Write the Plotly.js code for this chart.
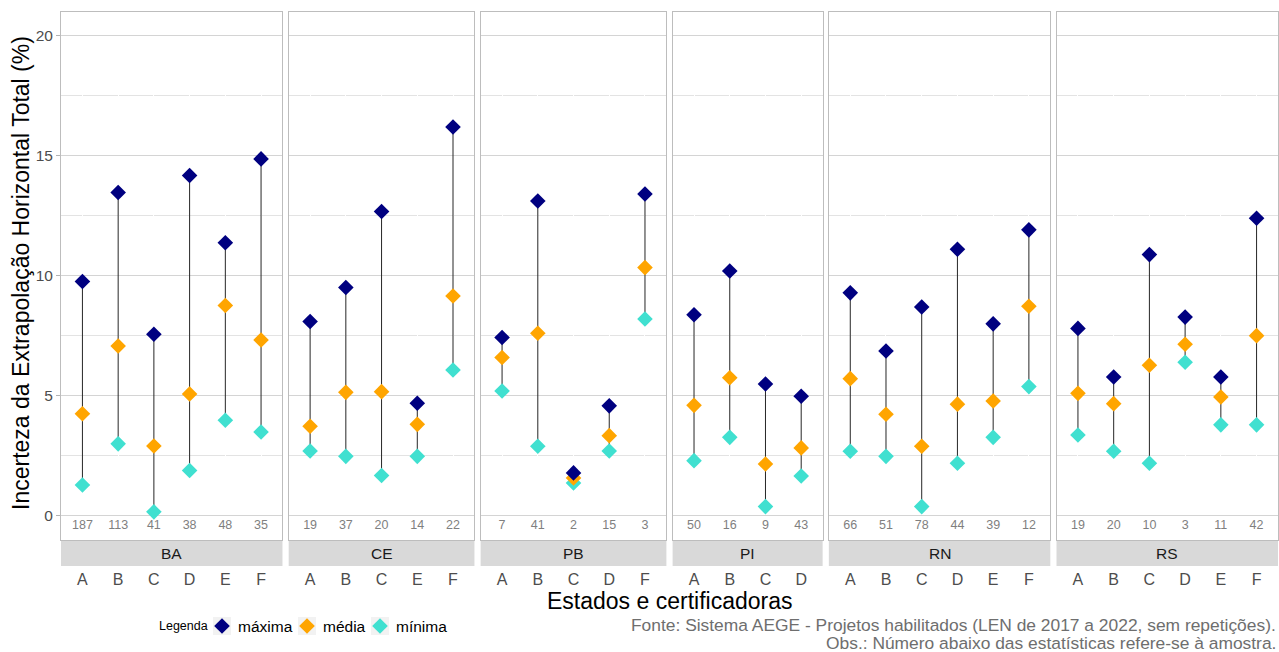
<!DOCTYPE html>
<html><head><meta charset="utf-8">
<script src="https://cdn.plot.ly/plotly-3.0.1.min.js"></script>
<style>html,body{margin:0;padding:0;background:#fff}#chart{width:1279px;height:652px}</style>
</head><body><div id="chart"></div>
<script>
// ---- data ----
const estados = ['BA', 'CE', 'PB', 'PI', 'RN', 'RS'];

const catsBA = ['A', 'B', 'C', 'D', 'E', 'F'];
const maxBA = [9.75, 13.45, 7.56, 14.16, 11.36, 14.85];
const medBA = [4.25, 7.07, 2.91, 5.07, 8.75, 7.32];
const minBA = [1.29, 3.00, 0.17, 1.89, 3.98, 3.49];
const nBA = [187, 113, 41, 38, 48, 35];

const catsCE = ['A', 'B', 'C', 'E', 'F'];
const maxCE = [8.09, 9.50, 12.66, 4.69, 16.18];
const medCE = [3.73, 5.14, 5.17, 3.81, 9.15];
const minCE = [2.70, 2.48, 1.68, 2.48, 6.07];
const nCE = [19, 37, 20, 14, 22];

const catsPB = ['A', 'B', 'C', 'D', 'F'];
const maxPB = [7.42, 13.10, 1.79, 4.58, 13.39];
const medPB = [6.59, 7.60, 1.58, 3.34, 10.33];
const minPB = [5.20, 2.90, 1.37, 2.70, 8.19];
const nPB = [7, 41, 2, 15, 3];

const catsPI = ['A', 'B', 'C', 'D'];
const maxPI = [8.37, 10.19, 5.49, 4.98];
const medPI = [4.60, 5.75, 2.16, 2.83];
const minPI = [2.30, 3.27, 0.39, 1.66];
const nPI = [50, 16, 9, 43];

const catsRN = ['A', 'B', 'C', 'D', 'E', 'F'];
const maxRN = [9.28, 6.86, 8.69, 11.09, 7.99, 11.90];
const medRN = [5.71, 4.23, 2.90, 4.65, 4.78, 8.72];
const minRN = [2.69, 2.48, 0.39, 2.19, 3.27, 5.38];
const nRN = [66, 51, 78, 44, 39, 12];

const catsRS = ['A', 'B', 'C', 'D', 'E', 'F'];
const maxRS = [7.80, 5.78, 10.87, 8.27, 5.78, 12.38];
const medRS = [5.10, 4.67, 6.27, 7.14, 4.95, 7.50];
const minRS = [3.37, 2.69, 2.19, 6.39, 3.79, 3.79];
const nRS = [19, 20, 10, 3, 11, 42];

const yTicks = [0, 5, 10, 15, 20];
const yMinorTicks = [2.5, 7.5, 12.5, 17.5];
const serieNames = ['máxima', 'média', 'mínima'];

const panels = [
  {st: 'BA', cats: catsBA, max: maxBA, med: medBA, min: minBA, n: nBA},
  {st: 'CE', cats: catsCE, max: maxCE, med: medCE, min: minCE, n: nCE},
  {st: 'PB', cats: catsPB, max: maxPB, med: medPB, min: minPB, n: nPB},
  {st: 'PI', cats: catsPI, max: maxPI, med: medPI, min: minPI, n: nPI},
  {st: 'RN', cats: catsRN, max: maxRN, med: medRN, min: minRN, n: nRN},
  {st: 'RS', cats: catsRS, max: maxRS, med: medRS, min: minRS, n: nRS}
];

// ---- layout geometry ----
const W = 1279, H = 652;
const mL = 61, mR = 1, mT = 12, mB = 112;
const plotW = W - mL - mR, plotH = H - mT - mB;
const gapPx = 6.2;
const units = panels.map(p => p.cats.length + 0.2);
const totU = units.reduce((a, b) => a + b, 0);
const pxPerU = (plotW - gapPx * (panels.length - 1)) / totU;
const Y_RANGE = [-1.0, 20.96];
const COUNT_Y = -0.42;
const py = p => (H - mB - p) / plotH; // pixel y -> paper y
const px = p => (p - mL) / plotW;     // pixel x -> paper x

const COLS = ['#000080', '#FFA500', '#40E0D0'];
const FONT = 'Liberation Sans, Arial, sans-serif';

const traces = [];
const layout = {
  width: W, height: H,
  margin: {l: mL, r: mR, t: mT, b: mB, pad: 0},
  paper_bgcolor: '#fff', plot_bgcolor: '#fff',
  font: {family: FONT, color: '#000'},
  showlegend: false,
  shapes: [], annotations: []
};

let x0px = 0;
panels.forEach((p, i) => {
  const k = i + 1;
  const xa = k === 1 ? 'x' : 'x' + k;
  const ya = k === 1 ? 'y' : 'y' + k;
  const wpx = units[i] * pxPerU;
  const d0 = x0px / plotW, d1 = (x0px + wpx) / plotW;
  x0px += wpx + gapPx;

  layout['xaxis' + (k === 1 ? '' : k)] = {
    domain: [d0, Math.min(d1, 1)], anchor: ya, type: 'category',
    categoryorder: 'array', categoryarray: p.cats,
    range: [-0.6, p.cats.length - 0.4],
    showline: true, mirror: true, linecolor: '#BDBDBD', linewidth: 1,
    showgrid: true, gridcolor: '#FFFFFF', zeroline: false,
    ticks: '', ticklabelstandoff: 25,
    tickfont: {size: 16, color: '#4D4D4D', family: FONT},
    fixedrange: true
  };
  layout['yaxis' + (k === 1 ? '' : k)] = {
    domain: [0, 1], anchor: xa, range: Y_RANGE,
    matches: k === 1 ? undefined : 'y',
    tickmode: 'array', tickvals: yTicks, ticktext: yTicks.map(String),
    showticklabels: k === 1,
    ticks: k === 1 ? 'outside' : '', ticklen: 4, tickcolor: '#B3B3B3',
    tickfont: {size: 15.5, color: '#4D4D4D', family: FONT},
    showgrid: true, gridcolor: '#D4D4D4', gridwidth: 1,
    minor: {tickvals: yMinorTicks, showgrid: true, gridcolor: '#E3E3E3', gridwidth: 1},
    showline: true, mirror: true, linecolor: '#BDBDBD', linewidth: 1,
    zeroline: false, fixedrange: true
  };

  // strip
  layout.shapes.push({
    type: 'rect', xref: xa + ' domain', yref: 'paper',
    x0: 0, x1: 1, y0: py(566), y1: py(540.5),
    fillcolor: '#D9D9D9', line: {width: 0}, layer: 'below'
  });
  layout.annotations.push({
    xref: xa + ' domain', yref: 'paper', x: 0.5, y: py(553),
    text: p.st, showarrow: false, xanchor: 'center', yanchor: 'middle',
    font: {size: 15.5, color: '#1A1A1A', family: FONT}
  });

  // segments
  const sx = [], sy = [];
  p.cats.forEach((c, j) => { sx.push(c, c, null); sy.push(p.min[j], p.max[j], null); });
  traces.push({
    type: 'scatter', mode: 'lines', x: sx, y: sy, xaxis: xa, yaxis: ya,
    line: {color: '#262626', width: 1}, showlegend: false, hoverinfo: 'skip'
  });

  const mk = (vals, name, col) => ({
    type: 'scatter', mode: 'markers', x: p.cats, y: vals, xaxis: xa, yaxis: ya,
    name: name, legendgroup: name, showlegend: false,
    marker: {symbol: 'diamond', size: 12, color: col, line: {width: 0}}
  });
  traces.push(mk(p.min, serieNames[2], COLS[2]));
  traces.push(mk(p.med, serieNames[1], COLS[1]));
  traces.push(mk(p.max, serieNames[0], COLS[0]));

  // counts
  traces.push({
    type: 'scatter', mode: 'text', x: p.cats, y: p.cats.map(() => COUNT_Y),
    text: p.n.map(String), textposition: 'middle center', xaxis: xa, yaxis: ya,
    textfont: {size: 12.5, color: '#7F7F7F', family: FONT},
    showlegend: false, hoverinfo: 'skip'
  });
});

// ---- legend (drawn as key boxes + diamonds + labels) ----
const legY = 626;
layout.annotations.push({
  xref: 'paper', yref: 'paper', x: px(157), y: py(legY), text: 'Legenda',
  showarrow: false, xanchor: 'left', yanchor: 'middle',
  font: {size: 12.5, color: '#000', family: FONT}
});
const keyCenters = [222, 307, 380];
serieNames.forEach((nm, s) => {
  const cx = keyCenters[s];
  layout.shapes.push({
    type: 'rect', xref: 'paper', yref: 'paper',
    x0: px(cx - 9), x1: px(cx + 9), y0: py(legY + 9), y1: py(legY - 9),
    fillcolor: '#F2F2F2', line: {width: 0}
  });
  const r = 7.8;
  layout.shapes.push({
    type: 'path', xref: 'paper', yref: 'paper',
    path: `M ${px(cx)} ${py(legY - r)} L ${px(cx + r)} ${py(legY)} L ${px(cx)} ${py(legY + r)} L ${px(cx - r)} ${py(legY)} Z`,
    fillcolor: COLS[s], line: {width: 0}
  });
  layout.annotations.push({
    xref: 'paper', yref: 'paper', x: px(cx + 14), y: py(legY), text: nm,
    showarrow: false, xanchor: 'left', yanchor: 'middle',
    font: {size: 15.5, color: '#000', family: FONT}
  });
});

// titles and caption
layout.annotations.push({
  xref: 'paper', yref: 'paper', x: px(21), y: py(273), textangle: -90,
  text: 'Incerteza da Extrapolação Horizontal Total (%)', showarrow: false,
  xanchor: 'center', yanchor: 'middle', font: {size: 23, color: '#000', family: FONT}
});
layout.annotations.push({
  xref: 'paper', yref: 'paper', x: 0.5, y: py(601),
  text: 'Estados e certificadoras', showarrow: false,
  xanchor: 'center', yanchor: 'middle', font: {size: 23, color: '#000', family: FONT}
});
layout.annotations.push({
  xref: 'paper', yref: 'paper', x: 1, y: py(625),
  text: 'Fonte: Sistema AEGE - Projetos habilitados (LEN de 2017 a 2022, sem repetições).',
  showarrow: false, xanchor: 'right', yanchor: 'middle',
  font: {size: 17.4, color: '#6E6E6E', family: FONT}
});
layout.annotations.push({
  xref: 'paper', yref: 'paper', x: 1, y: py(643),
  text: 'Obs.: Número abaixo das estatísticas refere-se à amostra.',
  showarrow: false, xanchor: 'right', yanchor: 'middle',
  font: {size: 17.4, color: '#6E6E6E', family: FONT}
});

Plotly.newPlot('chart', traces, layout, {displayModeBar: false, staticPlot: true});
</script>
</body></html>
